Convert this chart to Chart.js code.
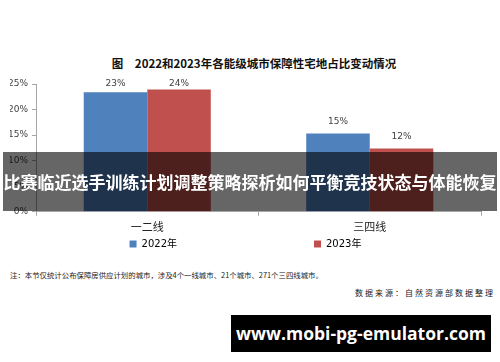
<!DOCTYPE html>
<html>
<head>
<meta charset="utf-8">
<script src="https://cdn.jsdelivr.net/npm/chart.js@4"></script>
<style>
    body { margin: 0; background: #fff; }
    #page { position: relative; width: 500px; height: 362px; overflow: hidden; background: #fff; font-family: "Noto Sans CJK SC", sans-serif; }
    #title { position: absolute; top: 55px; left: 0; width: 508px; text-align: center; font-size: 11.5px; font-weight: bold; color: #111; }
    #wrap { position: absolute; top: 70px; left: 0; width: 500px; height: 189px; }
    #note { position: absolute; top: 269px; left: 10px; font-size: 7.4px; color: #222; white-space: nowrap; }
    #source { position: absolute; top: 287px; right: 5px; font-size: 8px; letter-spacing: 2px; color: #222; white-space: nowrap; }
    #banner { position: absolute; top: 152px; left: 3px; width: 494px; height: 59px; background: rgba(0, 0, 0, 0.6); color: #fff; font-size: 17px; font-weight: bold; line-height: 59px; text-align: center; white-space: nowrap; z-index: 5; }
    #site { position: absolute; top: 315px; left: 231px; width: 260px; height: 37px; background: #000; color: #fff; font-family: "Open Sans", sans-serif; font-size: 17.5px; font-weight: bold; line-height: 37px; text-align: center; z-index: 5; }
</style>
</head>
<body>
<div id="page">
    <div id="title">图　2022和2023年各能级城市保障性宅地占比变动情况</div>
    <div id="wrap"><canvas id="chart"></canvas></div>
    <div id="note">注：本节仅统计公布保障房供应计划的城市，涉及4个一线城市、21个城市、271个三四线城市。</div>
    <div id="source">数据来源：自然资源部数据整理</div>
    <div id="banner">比赛临近选手训练计划调整策略探析如何平衡竞技状态与体能恢复</div>
    <div id="site">www.mobi-pg-emulator.com</div>
</div>
<script>
    // data
    const categories = ['一二线', '三四线'];
    const seriesNames = ['2022年', '2023年'];
    const values2022 = [23.4, 15.3];
    const values2023 = [23.9, 12.4];
    const yTicks = [0, 5, 10, 15, 20, 25];

    const blue = '#4f81bd';
    const red = '#c0504d';

    // percent labels above each bar
    const barLabels = {
        id: 'barLabels',
        afterDatasetsDraw(chart) {
            const ctx = chart.ctx;
            ctx.save();
            ctx.font = '9px "DejaVu Sans"';
            ctx.fillStyle = '#404040';
            ctx.textAlign = 'center';
            ctx.textBaseline = 'middle';
            chart.data.datasets.forEach((ds, i) => {
                chart.getDatasetMeta(i).data.forEach((bar, j) => {
                    const y = Math.max(bar.y - 12, chart.chartArea.top);
                    ctx.fillText(Math.round(ds.data[j]) + '%', bar.x, y);
                });
            });
            ctx.restore();
        }
    };

    // wide gap between the two legend entries
    const gap = '\u2003'.repeat(13) + '\u2002';

    new Chart(document.getElementById('chart').getContext('2d'), {
        type: 'bar',
        data: {
            labels: categories,
            datasets: [{
                label: seriesNames[0],
                data: values2022,
                backgroundColor: blue,
                borderWidth: 0,
                categoryPercentage: 0.571,
                barPercentage: 1.0
            }, {
                label: seriesNames[1],
                data: values2023,
                backgroundColor: red,
                borderWidth: 0,
                categoryPercentage: 0.571,
                barPercentage: 1.0
            }]
        },
        plugins: [barLabels],
        options: {
            responsive: true,
            maintainAspectRatio: false,
            animation: false,
            layout: {
                padding: { top: 14, right: 19, left: 10, bottom: 0 }
            },
            plugins: {
                tooltip: { enabled: false },
                legend: {
                    position: 'bottom',
                    labels: {
                        boxWidth: 7,
                        boxHeight: 7,
                        padding: 2,
                        color: '#222',
                        font: { size: 10, family: '"DejaVu Sans", "Noto Sans CJK SC"' },
                        generateLabels(chart) {
                            return chart.data.datasets.map((ds, i) => ({
                                text: i === 0 ? ds.label + gap : ds.label,
                                fillStyle: ds.backgroundColor,
                                strokeStyle: ds.backgroundColor,
                                lineWidth: 0,
                                datasetIndex: i
                            }));
                        }
                    }
                }
            },
            scales: {
                x: {
                    grid: {
                        offset: true,
                        drawOnChartArea: false,
                        tickLength: 4,
                        color: '#a6a6a6'
                    },
                    border: { color: '#a6a6a6' },
                    ticks: {
                        padding: 4,
                        color: '#222',
                        font: { size: 11, family: '"Noto Sans CJK SC"' }
                    }
                },
                y: {
                    min: 0,
                    max: 25,
                    afterFit(scale) { scale.width = 26; },
                    afterBuildTicks(scale) { scale.ticks = yTicks.map(v => ({ value: v })); },
                    grid: {
                        drawOnChartArea: false,
                        tickLength: 4,
                        color: '#a6a6a6'
                    },
                    border: { color: '#a6a6a6' },
                    ticks: {
                        padding: 4,
                        color: '#404040',
                        font: { size: 9, family: '"DejaVu Sans"' },
                        callback: v => v + '%'
                    }
                }
            }
        }
    });
</script>
</body>
</html>
